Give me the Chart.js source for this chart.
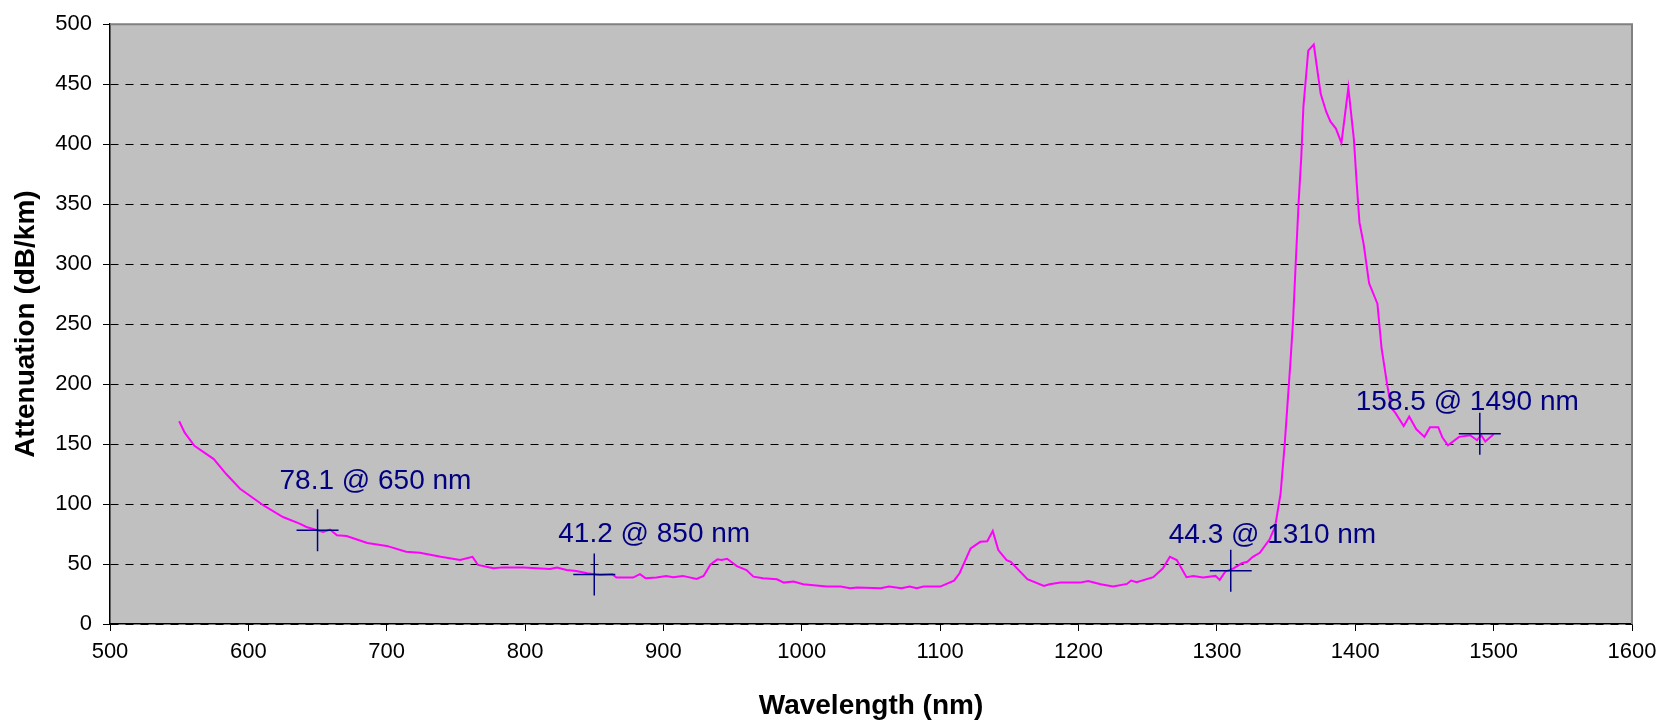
<!DOCTYPE html>
<html>
<head>
<meta charset="utf-8">
<title>Attenuation vs Wavelength</title>
<script src="https://cdn.jsdelivr.net/npm/chart.js@4.4.1/dist/chart.umd.min.js"></script>
<style>
    html, body { margin: 0; padding: 0; background: #ffffff; }
    #wrap { width: 1673px; height: 725px; }
</style>
</head>
<body>
<div id="wrap"><canvas id="attChart" width="1673" height="725"></canvas></div>
<script>
// Curva de atenuación (nm, dB/km)
const wavelengths = [
    550, 554, 561, 575, 584, 594, 611, 625, 637, 642, 654, 659, 664, 671, 686, 700, 714, 724, 739, 753,
    762, 766, 777, 784, 799, 818, 823, 830, 837, 845, 854, 863, 866, 878, 883, 887, 895, 902, 907, 914,
    924, 929, 934, 939, 942, 946, 953, 960, 965, 972, 982, 987, 994, 1001, 1018, 1028, 1035, 1040, 1057, 1063,
    1072, 1078, 1083, 1088, 1100, 1110, 1114, 1122, 1129, 1134, 1138, 1142, 1148, 1151, 1163, 1175, 1179, 1187, 1201, 1207,
    1216, 1225, 1235, 1238, 1242, 1254, 1261, 1266, 1271, 1278, 1283, 1290, 1299, 1302, 1306, 1312, 1318, 1322, 1326, 1331,
    1338, 1342, 1346, 1349, 1353, 1355, 1357, 1359, 1361, 1362.5, 1364, 1366, 1370, 1375, 1379, 1382, 1386, 1390, 1395, 1399,
    1401, 1403, 1406, 1410, 1416, 1419, 1423, 1426, 1429, 1435, 1439, 1444, 1450, 1454, 1460, 1463, 1467, 1475, 1483, 1488,
    1491, 1494, 1500
];
const attenuation = [
    169, 159.5, 148.5, 137.5, 125, 112.7, 98.8, 89.2, 83.7, 80.9, 76.7, 78.7, 74, 73.4, 67.6, 65.1, 60.2, 59.4, 56, 53.3,
    56, 49.2, 46.4, 47.2, 47.2, 45.9, 47, 45, 44.2, 42.3, 40.9, 41.5, 38.7, 38.7, 41.5, 38.2, 38.7, 40.1, 39, 40.1,
    37.6, 40.1, 49.7, 53.9, 53.3, 54.4, 48.3, 45, 39.5, 38.2, 37.3, 34.5, 35.4, 33.2, 31.2, 31.2, 29.9, 30.4, 29.9, 31.2,
    29.9, 31.2, 29.9, 31.2, 31.2, 36.2, 42.3, 63, 68.5, 69, 77.6, 61.6, 53.3, 51.9, 37.3, 31.8, 33.2, 34.5, 34.5, 35.9,
    33.2, 31.2, 33.4, 36.2, 34.8, 39, 46.4, 56, 53.3, 39, 40.1, 38.7, 40.1, 36.8, 43.6, 46.4, 50.6, 51.9, 56, 59.4,
    70.4, 80.9, 108.5, 150, 216, 252, 302, 350, 390, 431, 451, 478, 483, 442, 427, 419, 413, 401, 447, 404,
    368, 335, 317, 284, 267, 230, 200, 180, 176, 165, 173, 162.5, 156, 164, 164, 155.4, 149, 156, 157.4, 153.2,
    157.4, 152.1, 158.2
];

// Puntos marcados
const markerWavelengths = [650, 850, 1310, 1490];
const markerValues = [78.1, 41.2, 44.3, 158.5];

// Ticks de los ejes
const xTicks = [500, 600, 700, 800, 900, 1000, 1100, 1200, 1300, 1400, 1500, 1600];
const yTicks = [0, 50, 100, 150, 200, 250, 300, 350, 400, 450, 500];

// Desplazamiento (px) de cada etiqueta respecto a su cruz
const labelOffsets = [[-38, -41], [-36, -33], [-62, -28], [-124, -24]];

const FONT = 'Arial, "Liberation Sans", sans-serif';
Chart.defaults.font.family = FONT;
Chart.defaults.color = '#000000';

// Fondo gris del área de trazado + bordes
const plotFrame = {
    id: 'plotFrame',
    beforeDraw(chart) {
        const { ctx, chartArea: a } = chart;
        ctx.save();
        ctx.fillStyle = '#c0c0c0';
        ctx.fillRect(a.left, a.top, a.right - a.left, a.bottom - a.top);
        ctx.restore();
    },
    afterDatasetsDraw(chart) {
        const { ctx, chartArea: a } = chart;
        ctx.save();
        ctx.strokeStyle = '#808080';
        ctx.lineWidth = 2;
        ctx.beginPath();
        ctx.moveTo(a.left, a.top);
        ctx.lineTo(a.right, a.top);
        ctx.lineTo(a.right, a.bottom);
        ctx.stroke();
        ctx.restore();
    }
};

// Etiquetas "valor @ nm"
const markerLabels = {
    id: 'markerLabels',
    afterDatasetsDraw(chart) {
        const { ctx, scales } = chart;
        ctx.save();
        ctx.font = '28px ' + FONT;
        ctx.fillStyle = '#000080';
        ctx.textAlign = 'left';
        ctx.textBaseline = 'alphabetic';
        markerWavelengths.forEach((wl, i) => {
            const px = scales.x.getPixelForValue(wl);
            const py = scales.y.getPixelForValue(markerValues[i]);
            const text = markerValues[i].toFixed(1) + ' @ ' + wl + ' nm';
            ctx.fillText(text, px + labelOffsets[i][0], py + labelOffsets[i][1]);
        });
        ctx.restore();
    }
};

const ctx = document.getElementById('attChart');

new Chart(ctx, {
    type: 'scatter',
    data: {
        datasets: [
            {
                label: 'Marcadores',
                data: markerWavelengths.map((x, i) => ({ x: x, y: markerValues[i] })),
                showLine: false,
                pointStyle: 'cross',
                pointRadius: 21,
                pointHoverRadius: 21,
                borderColor: '#000080',
                borderWidth: 1.5,
                order: 0
            },
            {
                label: 'Atenuación',
                data: wavelengths.map((x, i) => ({ x: x, y: attenuation[i] })),
                showLine: true,
                borderColor: '#ff00ff',
                borderWidth: 2,
                pointRadius: 0,
                tension: 0,
                order: 1
            }
        ]
    },
    options: {
        responsive: false,
        animation: false,
        layout: { padding: { top: 20, right: 41, left: 0, bottom: 0 } },
        plugins: {
            legend: { display: false },
            tooltip: { enabled: false }
        },
        scales: {
            x: {
                type: 'linear',
                min: xTicks[0],
                max: xTicks[xTicks.length - 1],
                afterBuildTicks: (s) => { s.ticks = xTicks.map(v => ({ value: v })); },
                afterFit: (s) => { s.height = 101; },
                grid: { drawOnChartArea: false, drawTicks: true, tickLength: 7, tickColor: '#000000' },
                border: { color: '#000000', width: 1.5 },
                ticks: {
                    font: { size: 22 },
                    padding: 8,
                    maxRotation: 0,
                    color: '#000000',
                    callback: (v) => String(v)
                },
                title: {
                    display: true,
                    text: 'Wavelength (nm)',
                    font: { size: 28, weight: 'bold' },
                    padding: { top: 0, bottom: 2 },
                    color: '#000000'
                }
            },
            y: {
                type: 'linear',
                min: yTicks[0],
                max: yTicks[yTicks.length - 1],
                afterBuildTicks: (s) => { s.ticks = yTicks.map(v => ({ value: v })); },
                afterFit: (s) => { s.width = 110; },
                grid: {
                    color: '#000000',
                    lineWidth: 1,
                    drawTicks: true,
                    tickLength: 7,
                    tickColor: '#000000'
                },
                border: { color: '#000000', width: 1.5, dash: [8, 7] },
                ticks: {
                    font: { size: 22 },
                    padding: 11,
                    color: '#000000',
                    callback: (v) => String(v)
                },
                title: {
                    display: true,
                    text: 'Attenuation (dB/km)',
                    font: { size: 28, weight: 'bold' },
                    padding: { top: 9, bottom: 0 },
                    color: '#000000'
                }
            }
        }
    },
    plugins: [plotFrame, markerLabels]
});
</script>
</body>
</html>
